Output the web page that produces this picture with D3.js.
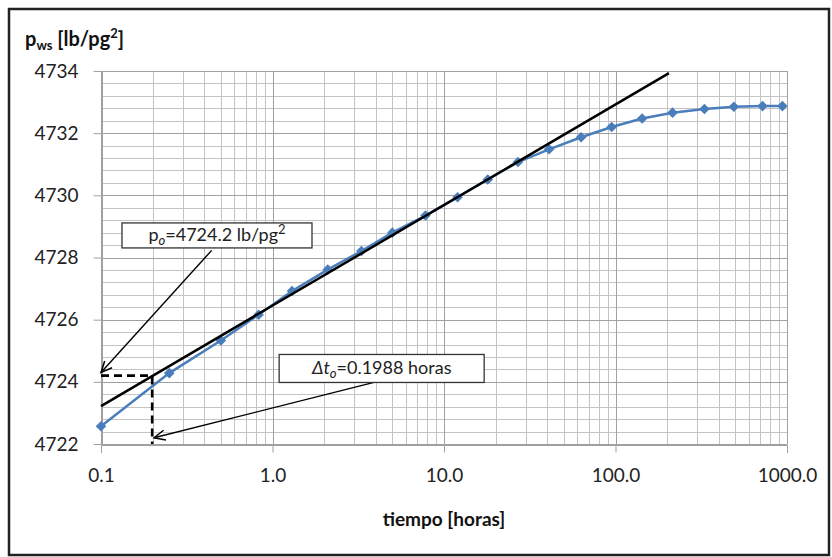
<!DOCTYPE html>
<html>
<head>
<meta charset="utf-8">
<script src="https://cdnjs.cloudflare.com/ajax/libs/d3/7.8.5/d3.min.js"></script>
<style>
  body { margin: 0; background: #fff; }
  svg { display: block; font-family: Lato, "Open Sans", sans-serif; }
</style>
</head>
<body>
<script>
// datos
var tiempo = [0.1, 0.25, 0.5, 0.83, 1.3, 2.1, 3.3, 5.0, 7.8, 12, 18, 27, 41, 63, 95, 143, 215, 330, 490, 720, 940];
var pws = [4722.57, 4724.28, 4725.33, 4726.16, 4726.92, 4727.61, 4728.21, 4728.80, 4729.35, 4729.94,
           4730.51, 4731.07, 4731.48, 4731.87, 4732.20, 4732.47, 4732.66, 4732.78, 4732.85, 4732.87, 4732.87];

// recta semilog
var rectaT = [0.1, 205];
var rectaP = [4723.22, 4733.93];

var xTicks = [0.1, 1, 10, 100, 1000];
var xTickLabels = ["0.1", "1.0", "10.0", "100.0", "1000.0"];
var yTicks = [4722, 4724, 4726, 4728, 4730, 4732, 4734];

var po = 4724.2;
var dto = 0.1988;

var W = 832, H = 557;
var margin = {top: 71, left: 101, right: 45, bottom: 113};

var svg = d3.select("body").append("svg")
    .attr("width", W)
    .attr("height", H);

// marco
svg.append("rect")
    .attr("x", 9).attr("y", 9)
    .attr("width", 820).attr("height", 546)
    .attr("fill", "#fff")
    .attr("stroke", "#222")
    .attr("stroke-width", 2.5);

var x = d3.scaleLog()
    .domain([0.1, 1000])
    .range([margin.left, W - margin.right]);

var y = d3.scaleLinear()
    .domain([4722, 4734])
    .range([H - margin.bottom, margin.top]);

var defs = svg.append("defs");
defs.append("marker")
    .attr("id", "flecha")
    .attr("markerUnits", "userSpaceOnUse")
    .attr("viewBox", "-1 -7 14 14")
    .attr("markerWidth", 14).attr("markerHeight", 14)
    .attr("refX", 11).attr("refY", 0)
    .attr("orient", "auto")
  .append("path")
    .attr("d", "M0,-5L11,0L0,5")
    .attr("fill", "none")
    .attr("stroke", "#000")
    .attr("stroke-width", 1.5);

// rejilla menor
var minorX = [];
for (var dec = 0.1; dec < 1000; dec *= 10) {
  for (var k = 2; k <= 9; k++) minorX.push(dec * k);
}
var minorY = d3.range(4722, 4734.01, 0.4);

var grid = svg.append("g");
grid.selectAll(".mx").data(minorX).enter().append("line")
    .attr("x1", function(d) { return Math.round(x(d)) + 0.5; })
    .attr("x2", function(d) { return Math.round(x(d)) + 0.5; })
    .attr("y1", y(4722)).attr("y2", y(4734))
    .attr("stroke", "#c4c4c4");
grid.selectAll(".my").data(minorY).enter().append("line")
    .attr("x1", x(0.1)).attr("x2", x(1000))
    .attr("y1", function(d) { return Math.round(y(d)) + 0.5; })
    .attr("y2", function(d) { return Math.round(y(d)) + 0.5; })
    .attr("stroke", "#c4c4c4");

// rejilla mayor
grid.selectAll(".Mx").data(xTicks).enter().append("line")
    .attr("x1", function(d) { return Math.round(x(d)) + 0.5; })
    .attr("x2", function(d) { return Math.round(x(d)) + 0.5; })
    .attr("y1", y(4722)).attr("y2", y(4734))
    .attr("stroke", "#a0a0a0");
grid.selectAll(".My").data(yTicks).enter().append("line")
    .attr("x1", x(0.1)).attr("x2", x(1000))
    .attr("y1", function(d) { return Math.round(y(d)) + 0.5; })
    .attr("y2", function(d) { return Math.round(y(d)) + 0.5; })
    .attr("stroke", "#a0a0a0");

// ejes
var xAxis = svg.append("g")
    .attr("transform", "translate(0," + (Math.round(y(4722)) + 0.5) + ")")
    .call(d3.axisBottom(x).tickValues(xTicks).tickSize(8).tickPadding(16)
      .tickFormat(function(d, i) { return xTickLabels[i]; }));
var yAxis = svg.append("g")
    .attr("transform", "translate(" + (Math.round(x(0.1)) + 0.5) + ",0)")
    .call(d3.axisLeft(y).tickValues(yTicks).tickSize(8).tickPadding(15)
      .tickFormat(d3.format("d")));

[xAxis, yAxis].forEach(function(a) {
  a.select(".domain").attr("stroke", "#a0a0a0").attr("shape-rendering", "crispEdges");
  a.selectAll(".tick line").attr("stroke", "#a0a0a0");
  a.selectAll(".tick text")
      .attr("fill", "#222")
      .style("font-family", "Lato, sans-serif")
      .style("font-size", "19px");
});

// serie
var linea = d3.line()
    .x(function(d, i) { return x(tiempo[i]); })
    .y(function(d) { return y(d); });

svg.append("path")
    .datum(pws)
    .attr("d", linea)
    .attr("fill", "none")
    .attr("stroke", "#4a7ebb")
    .attr("stroke-width", 2.5);

svg.selectAll(".punto").data(pws).enter().append("path")
    .attr("class", "punto")
    .attr("transform", function(d, i) { return "translate(" + x(tiempo[i]) + "," + y(d) + ") rotate(45)"; })
    .attr("d", d3.symbol().type(d3.symbolSquare).size(56))
    .attr("fill", "#4a7ebb");

// recta
svg.append("line")
    .attr("x1", x(rectaT[0])).attr("y1", y(rectaP[0]))
    .attr("x2", x(rectaT[1])).attr("y2", y(rectaP[1]))
    .attr("stroke", "#000")
    .attr("stroke-width", 2.5);

// lineas punteadas
svg.append("path")
    .attr("d", "M" + x(0.1) + "," + y(po) + "H" + x(dto) + "V" + y(4722))
    .attr("fill", "none")
    .attr("stroke", "#000")
    .attr("stroke-width", 2.6)
    .attr("stroke-dasharray", "8,5");

// flechas
var flechas = [
  {t1: 0.442, p1: 4728.23, t2: 0.1, p2: 4724.3},
  {t1: 3.96, p1: 4723.99, t2: 0.204, p2: 4722.2}
];
svg.selectAll(".flecha").data(flechas).enter().append("line")
    .attr("x1", function(d) { return x(d.t1); })
    .attr("y1", function(d) { return y(d.p1); })
    .attr("x2", function(d) { return x(d.t2); })
    .attr("y2", function(d) { return y(d.p2); })
    .attr("stroke", "#000")
    .attr("stroke-width", 1.4)
    .attr("marker-end", "url(#flecha)");

// cuadros de texto
function cuadro(cx, cy, w, h) {
  var g = svg.append("g").attr("transform", "translate(" + cx + "," + cy + ")");
  g.append("rect")
      .attr("x", -w / 2).attr("y", -h / 2)
      .attr("width", w).attr("height", h)
      .attr("fill", "#fff")
      .attr("stroke", "#333")
      .attr("stroke-width", 1.3);
  return g.append("text")
      .attr("text-anchor", "middle")
      .attr("y", 6)
      .attr("fill", "#222")
      .style("font-size", "18px");
}

var t1 = cuadro(x(0.4746), y(4728.71), 190, 25);
t1.append("tspan").text("p");
t1.append("tspan").attr("dy", 4).style("font-size", "13px").style("font-style", "italic").text("o");
t1.append("tspan").attr("dy", -4).text("=4724.2 lb/pg");
t1.append("tspan").attr("dy", -7).style("font-size", "13px").text("2");

var t2 = cuadro(x(4.33), y(4724.43), 205, 28);
t2.append("tspan").style("font-style", "italic").text("\u0394t");
t2.append("tspan").attr("dy", 4).style("font-size", "13px").style("font-style", "italic").text("o");
t2.append("tspan").attr("dy", -4).text("=0.1988 horas");

// titulos
var yt = svg.append("text")
    .attr("x", 25).attr("y", 46)
    .attr("fill", "#111")
    .style("font-weight", "bold")
    .style("font-size", "20px");
yt.append("tspan").text("p");
yt.append("tspan").attr("dy", 4).style("font-size", "13px").text("ws");
yt.append("tspan").attr("dy", -4).text(" [lb/pg");
yt.append("tspan").attr("dy", -8).style("font-size", "13px").text("2");
yt.append("tspan").attr("dy", 8).text("]");

svg.append("text")
    .attr("x", x(10)).attr("y", 526)
    .attr("text-anchor", "middle")
    .attr("fill", "#111")
    .style("font-weight", "bold")
    .style("font-size", "19px")
    .text("tiempo [horas]");
</script>
</body>
</html>
